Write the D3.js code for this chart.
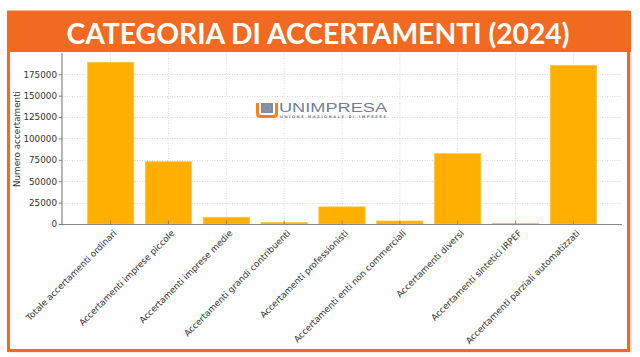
<!DOCTYPE html>
<html>
<head>
<meta charset="utf-8">
<script src="https://cdn.jsdelivr.net/npm/d3@7"></script>
<style>
  html, body { margin: 0; padding: 0; background: #fff; }
  svg { display: block; }
</style>
</head>
<body>
<svg id="chart" width="640" height="357"></svg>
<script>
const titleText = "CATEGORIA DI ACCERTAMENTI (2024)";
const yAxisLabel = "Numero accertamenti";
const categories = [
  "Totale accertamenti ordinari",
  "Accertamenti imprese piccole",
  "Accertamenti imprese medie",
  "Accertamenti grandi contribuenti",
  "Accertamenti professionisti",
  "Accertamenti enti non commerciali",
  "Accertamenti diversi",
  "Accertamenti sintetici IRPEF",
  "Accertamenti parziali automatizzati"
];
const values = [189000, 72800, 7900, 1800, 20000, 3500, 82200, 800, 185500];
const yTicks = [0, 25000, 50000, 75000, 100000, 125000, 150000, 175000];

const svg = d3.select("#chart");
const orange = "#F26A22";
const fs = 8.8;

// Frame + header
svg.append("rect").attr("x", 9.5).attr("y", 13.5).attr("width", 621).attr("height", 338)
  .attr("fill", "none").attr("stroke", "#FAD3BC").attr("stroke-width", 2);
svg.append("rect").attr("x", 8.5).attr("y", 12).attr("width", 620).attr("height", 338.5)
  .attr("fill", "#fff").attr("stroke", orange).attr("stroke-width", 3);
svg.append("rect").attr("x", 7).attr("y", 11).attr("width", 624).attr("height", 41)
  .attr("fill", orange);
svg.append("text").attr("x", 318).attr("y", 44)
  .attr("text-anchor", "middle")
  .attr("font-family", "Lato, 'Open Sans', sans-serif")
  .attr("font-weight", 700).attr("font-size", 28)
  .attr("fill", "#fff")
  .attr("textLength", 503).attr("lengthAdjust", "spacingAndGlyphs")
  .text(titleText);

// Scales
const x = d3.scaleBand().domain(categories).range([62, 622]).paddingInner(0.2).paddingOuter(0.44);
const y = d3.scaleLinear().domain([0, 199500]).range([224, 53.3]);

const g = svg.append("g");

// Grid
g.append("g").selectAll("line").data(yTicks.slice(1)).join("line")
  .attr("x1", 62).attr("x2", 622)
  .attr("y1", d => Math.round(y(d)) + 0.5).attr("y2", d => Math.round(y(d)) + 0.5)
  .attr("stroke", "#d0d0d0").attr("stroke-width", 0.8).attr("stroke-dasharray", "1,1.5");
g.append("g").selectAll("line").data(categories).join("line")
  .attr("x1", d => x(d) + x.bandwidth() / 2).attr("x2", d => x(d) + x.bandwidth() / 2)
  .attr("y1", 53).attr("y2", 224)
  .attr("stroke", "#d0d0d0").attr("stroke-width", 0.8).attr("stroke-dasharray", "1,1.5");

// Watermark logo
const logo = svg.append("g");
logo.append("path")
  .attr("d", "M256,103 L259,103 L259,113 Q259,115 261,115 L273,115 Q275,115 275,113 L275,103 L278,103 L278,114 Q278,118 274,118 L260,118 Q256,118 256,114 Z")
  .attr("fill", "#F58220");
logo.append("rect").attr("x", 261).attr("y", 103).attr("width", 12).attr("height", 10).attr("fill", "#7F8DA8");
logo.append("circle").attr("cx", 267).attr("cy", 108).attr("r", 3.2).attr("fill", "none")
  .attr("stroke", "#E8D060").attr("stroke-width", 0.6).attr("stroke-dasharray", "0.6,1");
logo.append("text").attr("x", 279).attr("y", 112)
  .attr("font-family", "'Liberation Sans', Arial, sans-serif").attr("font-size", 12)
  .attr("fill", "#6F7F99").attr("textLength", 108).attr("lengthAdjust", "spacingAndGlyphs")
  .text("UNIMPRESA");
logo.append("text").attr("x", 280).attr("y", 117.5)
  .attr("font-family", "'DejaVu Sans', sans-serif").attr("font-size", 3.6).attr("font-weight", 700)
  .attr("fill", "#6F7F99").attr("textLength", 106).attr("lengthAdjust", "spacing")
  .text("UNIONE NAZIONALE DI IMPRESE");

// Bars
g.append("g").selectAll("rect").data(values).join("rect")
  .attr("x", (d, i) => x(categories[i]))
  .attr("width", x.bandwidth())
  .attr("y", d => y(d))
  .attr("height", d => y(0) - y(d))
  .attr("fill", "#FFAF00")
  .attr("stroke", "#FFC544").attr("stroke-width", 0.8);

// X ticks (inward)
g.append("g").selectAll("line").data(categories).join("line")
  .attr("x1", d => x(d) + x.bandwidth() / 2).attr("x2", d => x(d) + x.bandwidth() / 2)
  .attr("y1", 224).attr("y2", 220.5)
  .attr("stroke", "#777").attr("stroke-width", 0.8);

// Axes
const yAxis = d3.axisLeft(y).tickValues(yTicks).tickSize(3).tickPadding(2).tickFormat(d3.format("d"));
const ya = svg.append("g").attr("transform", "translate(62,0)").call(yAxis);
ya.select(".domain").remove();
ya.selectAll(".tick line").attr("stroke", "#777");
ya.selectAll("text").attr("font-family", "'DejaVu Sans', sans-serif").attr("font-size", fs).attr("fill", "#333");

svg.append("line").attr("x1", 62).attr("x2", 62).attr("y1", 53).attr("y2", 224.5)
  .attr("stroke", "#888").attr("stroke-width", 1.2);
svg.append("line").attr("x1", 61.5).attr("x2", 622).attr("y1", 224.5).attr("y2", 224.5)
  .attr("stroke", "#888").attr("stroke-width", 1.2);

// X labels
svg.append("g").selectAll("text").data(categories).join("text")
  .attr("transform", d => `translate(${x(d) + x.bandwidth() / 2 + 3},${230}) rotate(-45)`)
  .attr("text-anchor", "end").attr("dy", "0.6em")
  .attr("font-family", "'DejaVu Sans', sans-serif").attr("font-size", fs).attr("fill", "#333")
  .text(d => d);

// Y label
svg.append("text").attr("transform", "translate(20,139) rotate(-90)")
  .attr("text-anchor", "middle")
  .attr("font-family", "'DejaVu Sans', sans-serif").attr("font-size", fs).attr("fill", "#333")
  .text(yAxisLabel);
</script>
</body>
</html>
